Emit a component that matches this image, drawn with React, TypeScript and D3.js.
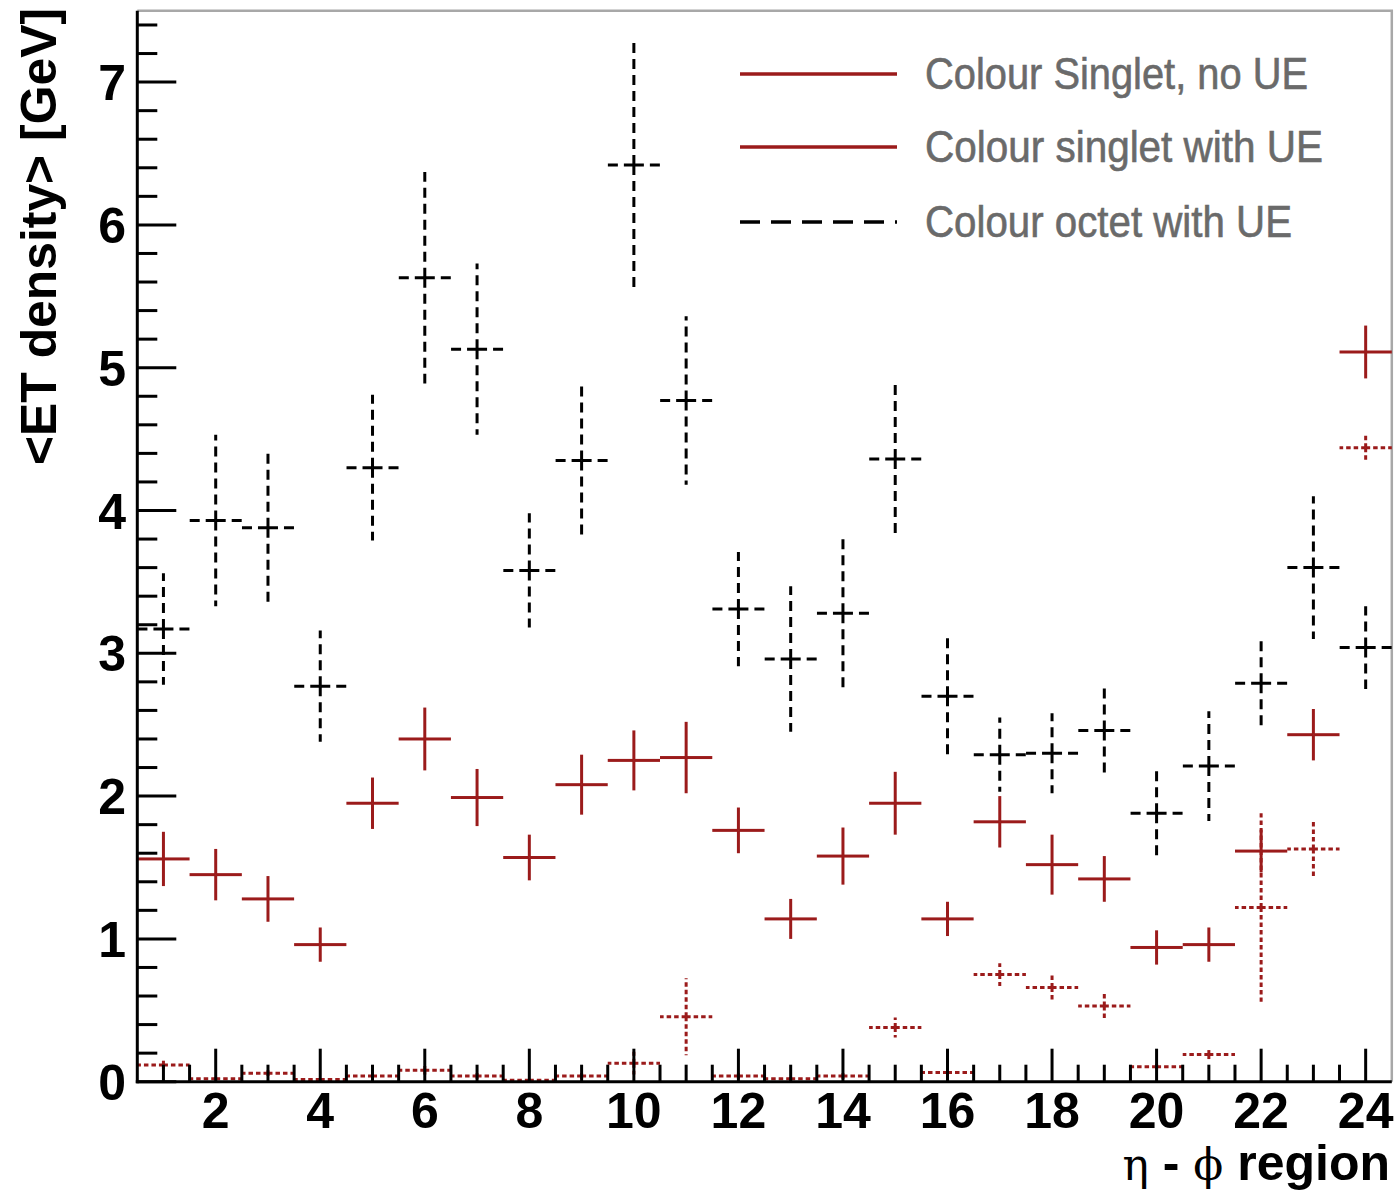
import React from "react";
import * as d3 from "d3";

// ---- data ----
const bins = d3.range(1, 25);
const noUE = [0.117, 0.02, 0.06, 0.015, 0.04, 0.08, 0.04, 0.01, 0.04, 0.13, 0.455, 0.04, 0.02, 0.04, 0.38, 0.065, 0.75, 0.66, 0.53, 0.105, 0.19, 1.22, 1.63, 4.44];
const noUEErr = [0.03, 0.01, 0.02, 0.01, 0.02, 0.03, 0.02, 0.01, 0.02, 0.08, 0.27, 0.02, 0.01, 0.02, 0.07, 0.03, 0.08, 0.1, 0.09, 0.02, 0.05, 0.66, 0.2, 0.1];
const withUE = [1.56, 1.45, 1.28, 0.96, 1.95, 2.40, 1.99, 1.57, 2.08, 2.25, 2.27, 1.76, 1.14, 1.58, 1.95, 1.14, 1.82, 1.52, 1.42, 0.94, 0.96, 1.615, 2.43, 5.11];
const withUEErr = [0.19, 0.18, 0.16, 0.12, 0.18, 0.22, 0.2, 0.16, 0.21, 0.21, 0.25, 0.16, 0.14, 0.2, 0.22, 0.12, 0.18, 0.21, 0.16, 0.12, 0.12, 0.15, 0.18, 0.185];
const octet = [3.17, 3.93, 3.88, 2.77, 4.30, 5.63, 5.13, 3.58, 4.35, 6.42, 4.77, 3.31, 2.96, 3.28, 4.36, 2.70, 2.29, 2.30, 2.46, 1.88, 2.21, 2.79, 3.60, 3.04];
const octetErr = [0.39, 0.6, 0.55, 0.39, 0.51, 0.74, 0.6, 0.4, 0.52, 0.87, 0.59, 0.4, 0.51, 0.52, 0.53, 0.42, 0.26, 0.28, 0.31, 0.31, 0.385, 0.3, 0.5, 0.29];
const xTickLabels = [2, 4, 6, 8, 10, 12, 14, 16, 18, 20, 22, 24];
const yTickLabels = [0, 1, 2, 3, 4, 5, 6, 7];
const legendLabels = ["Colour Singlet, no UE", "Colour singlet with UE", "Colour octet with UE"];

const RED = "#9b1b1b";
const W = 1397, H = 1191;
const L = 137.3, R = 1391.8, T = 10.7, B = 1081.7;

const x = d3.scaleLinear().domain([0.5, 24.5]).range([L, R]);
const y = d3.scaleLinear().domain([0, 7.5]).range([B, T]);

type SeriesStyle = { color: string; dash?: string };

function Crosses({ vals, errs, style }: { vals: number[]; errs: number[]; style: SeriesStyle }) {
  return (
    <g stroke={style.color} strokeWidth={3} fill="none" strokeDasharray={style.dash}>
      {bins.map((b, i) => {
        const v = vals[i];
        const e = errs[i];
        const cx = x(b), cy = y(v);
        const yt = y(Math.min(7.5, v + e));
        const yb = y(Math.max(0, v - e));
        const segs = [
          [cx, cy, x(b - 0.5), cy],
          [cx, cy, x(b + 0.5), cy],
          [cx, cy, cx, yt],
          [cx, cy, cx, yb],
        ];
        return (
          <g key={b}>
            {segs.map((s, k) => (
              <path key={k} d={d3.line()([[s[0], s[1]], [s[2], s[3]]]) || ""} />
            ))}
          </g>
        );
      })}
    </g>
  );
}

export default function App() {
  const yMinor = d3.range(0, 7.5, 0.2).filter((v) => Math.abs(v - Math.round(v)) > 1e-6);
  const xMinor = d3.range(1, 24.01, 0.5).filter((v) => !(Math.abs(v % 2) < 1e-6));
  const legendY = [74, 147, 222];
  const legendStyles: SeriesStyle[] = [
    { color: RED },
    { color: RED },
    { color: "#000", dash: "20,11" },
  ];
  const legendLen = [383, 398, 367];
  return (
    <div style={{ position: "absolute", left: 0, top: 0 }}>
      <svg width={W} height={H} style={{ display: "block", background: "#fff" }}>
        <rect x={0} y={0} width={W} height={H} fill="#fff" />
        {/* frame (top/right) */}
        <path d={`M${L},${T}H${R}V${B}`} stroke="#a8a8a8" strokeWidth={2.5} fill="none" />

        {/* data */}
        <Crosses vals={octet} errs={octetErr} style={{ color: "#000", dash: "10,6" }} />
        <Crosses vals={withUE} errs={withUEErr} style={{ color: RED }} />
        <Crosses vals={noUE} errs={noUEErr} style={{ color: RED, dash: "4.5,3" }} />

        {/* axes */}
        <g stroke="#000" strokeWidth={3}>
          <line x1={L} y1={T} x2={L} y2={B + 1.5} />
          <line x1={L - 1.5} y1={B} x2={R} y2={B} />
          {yTickLabels.map((v) => (
            <line key={"ym" + v} x1={L} x2={L + 39} y1={y(v)} y2={y(v)} />
          ))}
          {yMinor.map((v) => (
            <line key={"yn" + v} x1={L} x2={L + 20} y1={y(v)} y2={y(v)} />
          ))}
          {xTickLabels.map((v) => (
            <line key={"xm" + v} x1={x(v)} x2={x(v)} y1={B} y2={B - 33} />
          ))}
          {xMinor.map((v) => (
            <line key={"xn" + v} x1={x(v)} x2={x(v)} y1={B} y2={B - 17} />
          ))}
        </g>

        {/* tick labels */}
        <g fontFamily="'Liberation Sans', Arial, sans-serif" fontWeight="bold" fontSize={50} fill="#000">
          {yTickLabels.map((v) => (
            <text key={"yl" + v} x={126} y={y(v) + 18} textAnchor="end">
              {v}
            </text>
          ))}
          {xTickLabels.map((v) => (
            <text key={"xl" + v} x={x(v)} y={1128} textAnchor="middle">
              {v}
            </text>
          ))}
        </g>

        {/* axis titles */}
        <text
          transform={`translate(56,465) rotate(-90)`}
          fontFamily="'Liberation Sans', Arial, sans-serif"
          fontWeight="bold"
          fontSize={50}
          textLength={457}
          lengthAdjust="spacingAndGlyphs"
        >
          {"<ET density> [GeV]"}
        </text>
        <text x={1390} y={1180} textAnchor="end" fontSize={50} fontFamily="'Liberation Sans', Arial, sans-serif" fontWeight="bold">
          <tspan fontFamily="'DejaVu Serif', 'Liberation Serif', serif" fontWeight="normal" fontSize={44}>η</tspan>
          <tspan> - </tspan>
          <tspan fontFamily="'DejaVu Serif', 'Liberation Serif', serif" fontWeight="normal" fontSize={44}>ϕ</tspan>
          <tspan> region</tspan>
        </text>

        {/* legend */}
        {legendLabels.map((lab, i) => (
          <g key={lab}>
            <line
              x1={740}
              x2={897}
              y1={legendY[i]}
              y2={legendY[i]}
              stroke={legendStyles[i].color}
              strokeWidth={3.5}
              strokeDasharray={legendStyles[i].dash}
            />
            <text
              x={925}
              y={legendY[i] + 15}
              fontFamily="'Liberation Sans', Arial, sans-serif"
              fontSize={44}
              fill="#6a6a6a"
              stroke="#6a6a6a"
              strokeWidth={0.6}
              textLength={legendLen[i]}
              lengthAdjust="spacingAndGlyphs"
            >
              {lab}
            </text>
          </g>
        ))}
      </svg>
    </div>
  );
}
